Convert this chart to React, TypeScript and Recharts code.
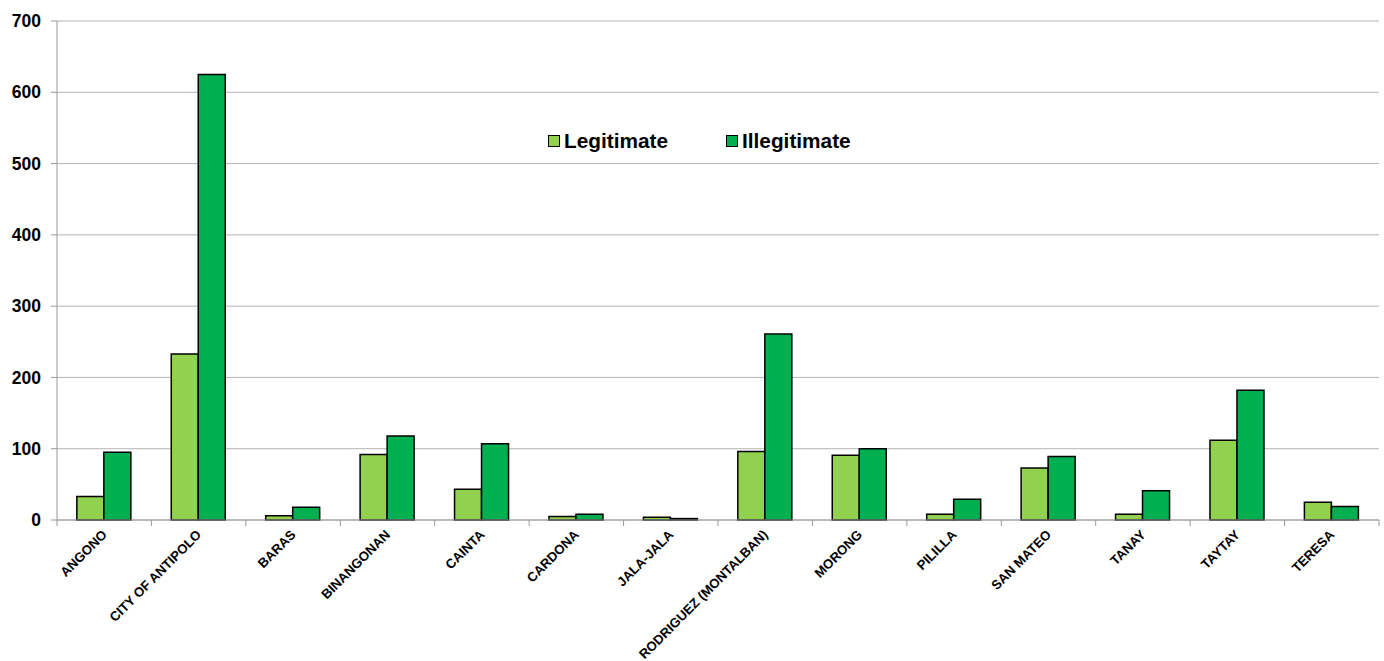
import { Bar, BarChart, CartesianGrid, XAxis, YAxis } from "recharts";

const LEGIT = "#92D050";
const ILLEGIT = "#00B050";
const AXIS = "#9a9a9a";
const FONT = "'Liberation Sans', Arial, sans-serif";

const towns = [
  "ANGONO",
  "CITY OF ANTIPOLO",
  "BARAS",
  "BINANGONAN",
  "CAINTA",
  "CARDONA",
  "JALA-JALA",
  "RODRIGUEZ (MONTALBAN)",
  "MORONG",
  "PILILLA",
  "SAN MATEO",
  "TANAY",
  "TAYTAY",
  "TERESA",
];
const legitimate = [33, 233, 6, 92, 43, 5, 4, 96, 91, 8, 73, 8, 112, 25];
const illegitimate = [95, 625, 18, 118, 107, 8, 2, 261, 100, 29, 89, 41, 182, 19];
const yTicks = [0, 100, 200, 300, 400, 500, 600, 700];

const data = towns.map((name, i) => ({
  name,
  Legitimate: legitimate[i],
  Illegitimate: illegitimate[i],
}));

const WIDTH = 1384;
const HEIGHT = 661;
const MARGIN = { top: 21, right: 5, left: 0, bottom: 0 };
const Y_WIDTH = 57;
const BAND = (WIDTH - MARGIN.left - MARGIN.right - Y_WIDTH) / towns.length;

function TownTick(props: any) {
  const { x, y, payload, index } = props;
  const last = index === towns.length - 1;
  const ty = y + 5;
  return (
    <g>
      <line x1={x - BAND / 2} x2={x - BAND / 2} y1={y - 8} y2={y - 2} stroke={AXIS} />
      {last && <line x1={x + BAND / 2} x2={x + BAND / 2} y1={y - 8} y2={y - 2} stroke={AXIS} />}
      <text
        x={x + 1}
        y={ty}
        transform={`rotate(-45, ${x + 1}, ${ty})`}
        textAnchor="end"
        dominantBaseline="middle"
        fontFamily={FONT}
        fontWeight={700}
        fontSize={13.2}
        fill="#000"
      >
        {payload.value}
      </text>
    </g>
  );
}

function LegendBox() {
  const items = [
    { label: "Legitimate", color: LEGIT },
    { label: "Illegitimate", color: ILLEGIT },
  ];
  return (
    <div
      style={{
        position: "absolute",
        left: 548,
        top: 128,
        display: "flex",
        gap: 58,
        fontFamily: FONT,
        fontWeight: 700,
        fontSize: 20.8,
        lineHeight: "26px",
      }}
    >
      {items.map((it) => (
        <div key={it.label} style={{ display: "flex", alignItems: "center", gap: 4 }}>
          <span
            style={{
              display: "inline-block",
              width: 10,
              height: 10,
              background: it.color,
              border: "1px solid #000",
            }}
          />
          <span>{it.label}</span>
        </div>
      ))}
    </div>
  );
}

export default function App() {
  return (
    <div style={{ position: "absolute", left: 0, top: 0, width: WIDTH, height: HEIGHT, background: "#fff" }}>
      <BarChart width={WIDTH} height={HEIGHT} data={data} margin={MARGIN} barGap={0} barCategoryGap="21%">
        <CartesianGrid vertical={false} stroke="#b4b4b4" />
        <XAxis
          dataKey="name"
          interval={0}
          height={141}
          stroke={AXIS}
          tickLine={false}
          tick={<TownTick />}
        />
        <YAxis
          width={Y_WIDTH}
          domain={[0, 700]}
          ticks={yTicks}
          stroke={AXIS}
          tickSize={6}
          tickMargin={10}
          tick={{ fill: "#000", fontFamily: FONT, fontWeight: 700, fontSize: 17.5 }}
        />
        <Bar dataKey="Legitimate" fill={LEGIT} stroke="#000" strokeWidth={1.5} isAnimationActive={false} />
        <Bar dataKey="Illegitimate" fill={ILLEGIT} stroke="#000" strokeWidth={1.5} isAnimationActive={false} />
      </BarChart>
      <LegendBox />
    </div>
  );
}
